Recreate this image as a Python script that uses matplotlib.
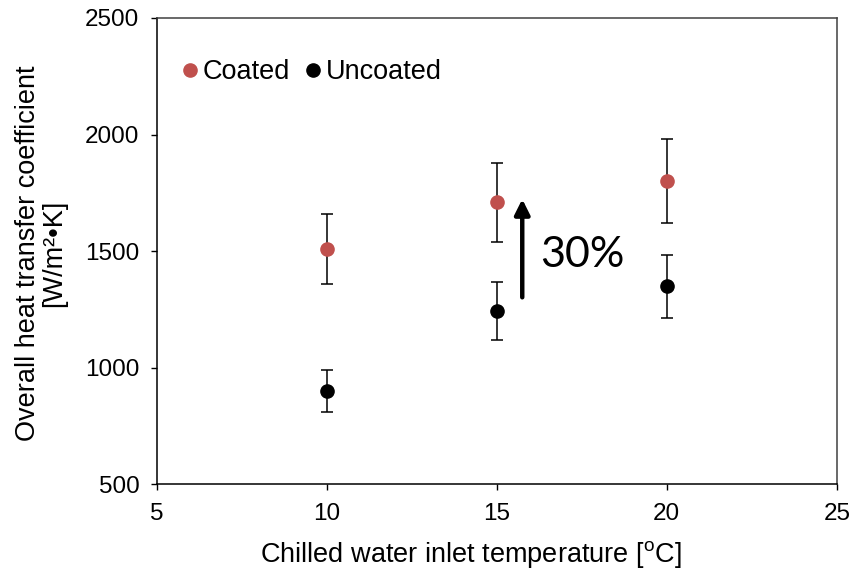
import numpy as np
import matplotlib
matplotlib.use('Agg')
import matplotlib.pyplot as plt

plt.rcParams['font.family'] = ['Liberation Sans', 'DejaVu Sans']
plt.rcParams['mathtext.fontset'] = 'custom'
plt.rcParams['mathtext.rm'] = 'Liberation Sans'

# data
temps = [10, 15, 20]
coated = [1510, 1710, 1800]
coated_err = [150, 170, 180]
uncoated = [900, 1242, 1350]
uncoated_err = [90, 124, 135]

red = '#C0504D'

fig = plt.figure(figsize=(8.49, 5.73), dpi=100)
ax = fig.add_axes([0.1846, 0.1548, 0.801, 0.8138])

ax.errorbar(temps, coated, yerr=coated_err, fmt='o', color=red, ms=9.5,
            ecolor='black', elinewidth=1.1, capsize=4.5, capthick=1.1, label='Coated', zorder=3)
ax.errorbar(temps, uncoated, yerr=uncoated_err, fmt='o', color='black', ms=9.5,
            ecolor='black', elinewidth=1.1, capsize=4.5, capthick=1.1, label='Uncoated', zorder=3)

# arrow and 30% note
ax.annotate('', xy=(15.75, 1735), xytext=(15.75, 1290),
            arrowprops=dict(arrowstyle='-|>,head_width=0.45,head_length=0.9', color='black', lw=3.2))
ax.text(16.27, 1433, '30%', fontsize=31, family='Lato', va='baseline', ha='left')

ax.set_xlim(5, 25)
ax.set_ylim(500, 2500)
ax.set_xticks([5, 10, 15, 20, 25])
ax.set_yticks([500, 1000, 1500, 2000, 2500])
ax.tick_params(axis='both', direction='out', length=4.5, width=1, labelsize=17.5, top=False, right=False)
ax.tick_params(axis='x', pad=9)
ax.tick_params(axis='y', pad=8)

for s in ['left', 'bottom']:
    ax.spines[s].set_color('black')
    ax.spines[s].set_linewidth(1.1)
for s in ['top', 'right']:
    ax.spines[s].set_color('#404040')
    ax.spines[s].set_linewidth(1.1)

ax.set_xlabel(r'Chilled water inlet temperature [$^{\rm o}$C]', fontsize=19.5)
ax.xaxis.set_label_coords(0.4615, -0.118)
ax.set_ylabel('Overall heat transfer coefficient\n[W/m²•K]', fontsize=19.5, linespacing=1.0)
ax.yaxis.set_label_coords(-0.132, 0.496)

handles, labels = ax.get_legend_handles_labels()
handles = [h[0] for h in handles]
ax.legend(handles, labels, loc='upper left', bbox_to_anchor=(-0.005, 0.958), ncol=2, frameon=False,
          fontsize=19.5, handletextpad=-0.08, columnspacing=0.3, handlelength=1.1, borderpad=0.3)

plt.savefig('out.png', dpi=100)
plt.close()
